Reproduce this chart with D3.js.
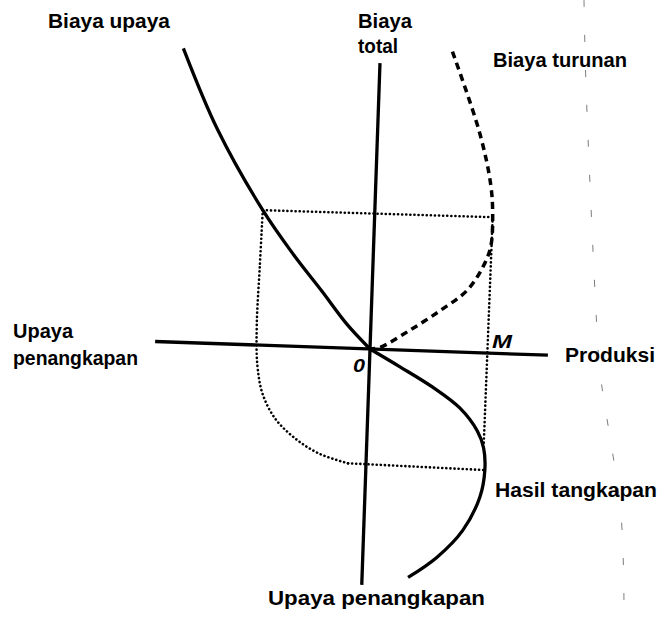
<!DOCTYPE html>
<html>
<head>
<meta charset="utf-8">
<script src="https://cdn.jsdelivr.net/npm/d3@7/dist/d3.min.js"></script>
<style>
  html, body { margin: 0; padding: 0; background: #fff; }
  svg { display: block; }
  text { font-family: "Liberation Sans", Arial, Helvetica, sans-serif; font-weight: bold; fill: #000; }
</style>
</head>
<body>
<svg id="chart" width="659" height="618"></svg>
<script>
// ---- data (local diagram units: u to the right, v upward, origin at O) ----
const axisHorizontal = [[-215, 0], [178, 0]];      // Upaya penangkapan <-> Produksi
const axisVertical   = [[0, 286], [0, -236]];      // Biaya total <-> Upaya penangkapan

const biayaUpaya = [[-197, 294], [-160, 214], [-112, 135], [-80, 92], [-50, 56], [-24, 24], [0, 0]];
const biayaTurunan = [[72, 300], [102, 220], [115, 168], [118, 136], [117, 106], [110, 86], [95, 62], [69, 41], [39, 20], [10, 2], [0, 0]];
const hasilTangkapan = [[0, 0], [31, -17], [64, -36], [92, -56], [110, -78], [117, -95], [119, -117], [115, -144], [99, -178], [74, -206], [46, -227]];

const dottedTop    = [[-112, 135], [118, 136]];
const dottedRight  = [[118, 136], [117, -92]];
const dottedLeft   = [[-112, 135], [-113, 80], [-114, 20], [-112, -20], [-106, -48], [-93, -72], [-73, -91], [-48, -106], [-18, -115]];
const dottedBottom = [[-18, -115], [119, -117]];

const labelsTop   = ["Biaya upaya", "Biaya", "total", "Biaya turunan"];
const labelsSide  = ["Upaya", "penangkapan", "Produksi"];
const labelsBottom = ["Hasil tangkapan", "Upaya penangkapan"];
const pointLabels = ["M", "0"];

// ---- drawing ----
const svg = d3.select("#chart");
const x = d3.scaleLinear().domain([-215, 180]).range([-215, 180]);
const y = d3.scaleLinear().domain([-240, 300]).range([240, -300]);

// faint scan fold line
svg.append("path")
  .attr("d", d3.line().curve(d3.curveCatmullRom)([[584, 0], [586, 85], [597, 330], [600, 372], [621, 515], [624, 618]]))
  .attr("fill", "none").attr("stroke", "#444").attr("stroke-width", 1)
  .attr("stroke-dasharray", "7,28").attr("opacity", 0.7);

const g = svg.append("g").attr("transform", "translate(370,349) rotate(2)");

const straight = d3.line().x(d => x(d[0])).y(d => y(d[1]));
const smooth = d3.line().x(d => x(d[0])).y(d => y(d[1])).curve(d3.curveCatmullRom.alpha(0.5));

// dotted construction lines
function dotted(path) {
  return path.attr("fill", "none").attr("stroke", "#000").attr("stroke-width", 2.6)
    .attr("stroke-dasharray", "0.1,4").attr("stroke-linecap", "round");
}
[dottedTop, dottedRight, dottedBottom].forEach(pts => dotted(g.append("path").attr("d", straight(pts))));
dotted(g.append("path").attr("d", smooth(dottedLeft)));

// axes
[axisHorizontal, axisVertical].forEach(pts => {
  g.append("path").attr("d", straight(pts))
    .attr("fill", "none").attr("stroke", "#000").attr("stroke-width", 3.3);
});

// curves
g.append("path").attr("d", smooth(biayaUpaya))
  .attr("fill", "none").attr("stroke", "#000").attr("stroke-width", 3.3);
g.append("path").attr("d", smooth(hasilTangkapan))
  .attr("fill", "none").attr("stroke", "#000").attr("stroke-width", 3.3);
g.append("path").attr("d", smooth(biayaTurunan))
  .attr("fill", "none").attr("stroke", "#000").attr("stroke-width", 3.5)
  .attr("stroke-dasharray", "7,5");

// labels
function label(txt, px, py, len, size, italic) {
  const t = svg.append("text").attr("x", px).attr("y", py)
    .attr("font-size", size).text(txt);
  if (len) t.attr("textLength", len).attr("lengthAdjust", "spacingAndGlyphs");
  if (italic) t.attr("font-style", "italic");
  return t;
}
label(labelsTop[0], 48, 28, 122, 20);
label(labelsTop[1], 358, 28, 54, 20);
label(labelsTop[2], 358, 53, 40, 20);
label(labelsTop[3], 493, 67, 134, 20);
label(labelsSide[0], 13, 338, 60, 20);
label(labelsSide[1], 13, 365, 125, 20);
label(labelsSide[2], 565, 362, 90, 20);
label(labelsBottom[0], 495, 497, 162, 20);
label(labelsBottom[1], 268, 605, 217, 20);
label(pointLabels[0], 492, 348, 20, 18, true);
label(pointLabels[1], 353, 372, 12, 18, true);
</script>
</body>
</html>
